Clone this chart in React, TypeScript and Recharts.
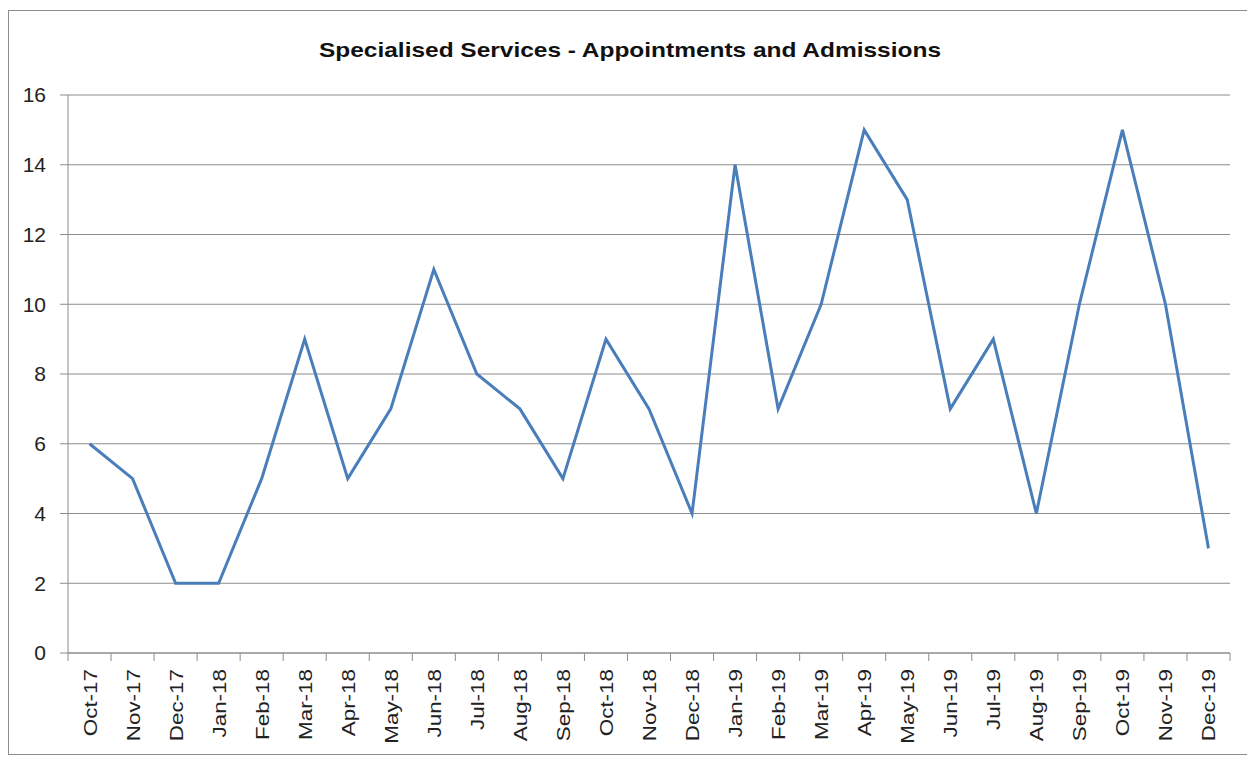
import React from 'react';
import { LineChart, Line, XAxis, YAxis, CartesianGrid } from 'recharts';

const months = [
  'Oct-17', 'Nov-17', 'Dec-17', 'Jan-18', 'Feb-18', 'Mar-18', 'Apr-18', 'May-18', 'Jun-18',
  'Jul-18', 'Aug-18', 'Sep-18', 'Oct-18', 'Nov-18', 'Dec-18', 'Jan-19', 'Feb-19', 'Mar-19',
  'Apr-19', 'May-19', 'Jun-19', 'Jul-19', 'Aug-19', 'Sep-19', 'Oct-19', 'Nov-19', 'Dec-19',
];
const counts = [6, 5, 2, 2, 5, 9, 5, 7, 11, 8, 7, 5, 9, 7, 4, 14, 7, 10, 15, 13, 7, 9, 4, 10, 15, 10, 3];
const yTicks = [0, 2, 4, 6, 8, 10, 12, 14, 16];

const data = months.map((m, i) => ({ idx: i, month: m, value: counts[i] }));
const xTicks = months.map((_, i) => i);

const W = 1239;
const H = 743;
const margin = { top: 84, right: 18, left: 0, bottom: 0 };
const plotW = W - 59 - margin.right;
const step = plotW / months.length;

const FONT = '"Liberation Sans", Arial, sans-serif';

// x tick: month label rotated, plus small tick marks on category boundaries
const MonthTick = ({ x, y, payload, index }: any) => {
  const top = y - 8;
  return (
    <g>
      <line x1={x - step / 2} y1={top} x2={x - step / 2} y2={top + 8} stroke="#8c8c8c" />
      {index === months.length - 1 && (
        <line x1={x + step / 2} y1={top} x2={x + step / 2} y2={top + 8} stroke="#8c8c8c" />
      )}
      <text
        x={0}
        y={0}
        transform={`translate(${x + 7},${top + 16}) rotate(-90) scale(1.18,1)`}
        textAnchor="end"
        fontSize={19}
        fontFamily={FONT}
        fill="#222"
      >
        {months[payload.value]}
      </text>
    </g>
  );
};

export default function App() {
  return (
    <div
      style={{
        position: 'relative',
        marginTop: 2,
        width: W,
        height: H,
        border: '1px solid #8c8c8c',
        background: '#fff',
      }}
    >
      <svg width={W} height={60} style={{ position: 'absolute', left: 0, top: 0 }}>
        <text
          x={310}
          y={46}
          textLength={622}
          lengthAdjust="spacingAndGlyphs"
          fontFamily={FONT}
          fontWeight="bold"
          fontSize={21}
          fill="#111"
        >
          Specialised Services - Appointments and Admissions
        </text>
      </svg>
      <LineChart width={W} height={H} data={data} margin={margin}>
        <CartesianGrid vertical={false} stroke="#8c8c8c" />
        <XAxis
          dataKey="idx"
          type="number"
          domain={[-0.5, months.length - 0.5]}
          ticks={xTicks}
          interval={0}
          height={101}
          tickLine={false}
          axisLine={{ stroke: '#8c8c8c' }}
          tick={<MonthTick />}
        />
        <YAxis
          width={59}
          domain={[0, 16]}
          ticks={yTicks}
          interval={0}
          tickSize={8}
          tickMargin={14}
          axisLine={{ stroke: '#8c8c8c' }}
          tickLine={{ stroke: '#8c8c8c' }}
          tick={{ fontSize: 21, fontFamily: FONT, fill: '#222' }}
        />
        <Line
          type="linear"
          dataKey="value"
          stroke="#4a7ebb"
          strokeWidth={3}
          dot={false}
          isAnimationActive={false}
        />
      </LineChart>
    </div>
  );
}
